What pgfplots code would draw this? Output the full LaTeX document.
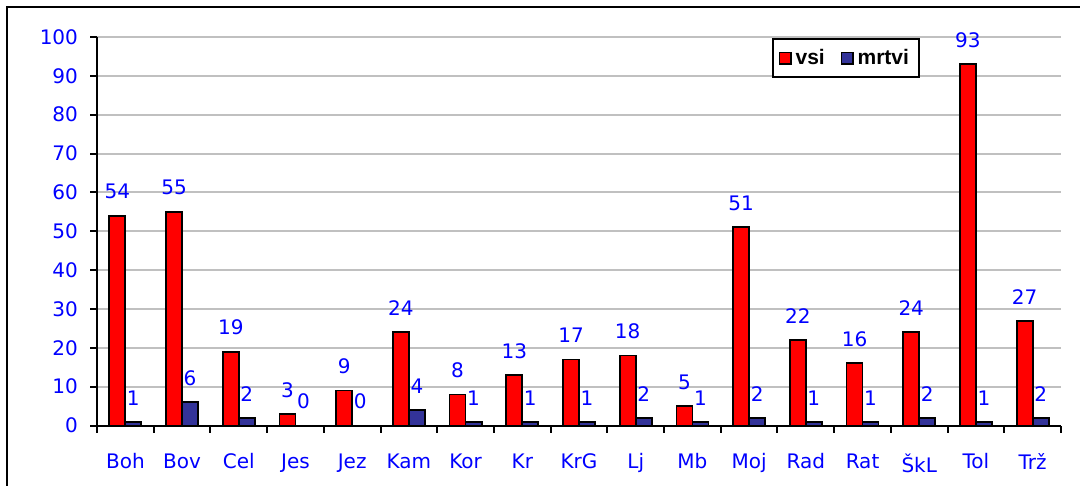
\documentclass[border=0pt]{standalone}
\usepackage{pgfplots}
\pgfplotsset{compat=1.18}
\usepackage{fontspec}
\setmainfont{DejaVu Sans}
\newfontfamily\legfont{Liberation Sans}
\definecolor{barred}{HTML}{FF0000}
\definecolor{barblue}{HTML}{333399}
\definecolor{txtblue}{HTML}{0000FF}
\definecolor{gridgray}{HTML}{C0C0C0}
\begin{document}
\begin{tikzpicture}
\useasboundingbox (0pt,0pt) rectangle (540pt,-243pt);
\draw[line width=1pt] (3.5pt,-245pt) -- (3.5pt,-3.5pt) -- (542pt,-3.5pt);
\begin{axis}[
  at={(62.68pt,-212.75pt)}, anchor=origin,
  scale only axis, width=482pt, height=194.25pt,
  ybar=0pt, bar width=8pt,
  xmin=-0.5, xmax=16.5, ymin=0, ymax=100,
  axis x line*=bottom, axis y line*=left,
  axis line style={line width=1pt},
  xtick={0,...,16},
  xticklabels={Boh,Bov,Cel,Jes,Jez,Kam,Kor,Kr,KrG,Lj,Mb,Moj,Rad,Rat,ŠkL,Tol,Trž},
  major x tick style={draw=none},
  minor xtick={-0.5,0.5,...,16.5},
  minor x tick style={line width=1pt, black},
  minor tick length=3.5pt,
  ytick={0,10,...,100},
  major y tick style={line width=1pt, black},
  major tick length=3.5pt,
  tick align=outside,
  ymajorgrids, major grid style={gridgray, line width=1pt},
  ticklabel style={font=\fontsize{10}{12}\selectfont, text=txtblue},
  /pgf/number format/assume math mode=true,
  xticklabel style={yshift=-7pt},
  yticklabel style={xshift=-2.5pt},
  nodes near coords,
  every node near coord/.append style={font=\fontsize{10}{12}\selectfont, text=txtblue, yshift=4.5pt},
  legend columns=2,
  legend style={at={(0.700,0.997)}, anchor=north west, draw=black, line width=1pt,
    font=\legfont\bfseries\fontsize{10.5}{12}\selectfont, inner xsep=3pt, inner ysep=3pt,
    /tikz/every even column/.append style={column sep=6pt}},
  legend image code/.code={\draw[#1, line width=0.8pt] (0pt,-2.8pt) rectangle (5.6pt,2.8pt);},
]
\addplot[fill=barred, draw=black, line width=0.9pt] coordinates {
(0,54) (1,55) (2,19) (3,3) (4,9) (5,24) (6,8) (7,13) (8,17) (9,18) (10,5) (11,51) (12,22) (13,16) (14,24) (15,93) (16,27)};
\addplot[fill=barblue, draw=black, line width=0.9pt] coordinates {
(0,1) (1,6) (2,2) (3,0) (4,0) (5,4) (6,1) (7,1) (8,1) (9,2) (10,1) (11,2) (12,1) (13,1) (14,2) (15,1) (16,2)};
\legend{vsi,mrtvi}
\end{axis}
\end{tikzpicture}
\end{document}
